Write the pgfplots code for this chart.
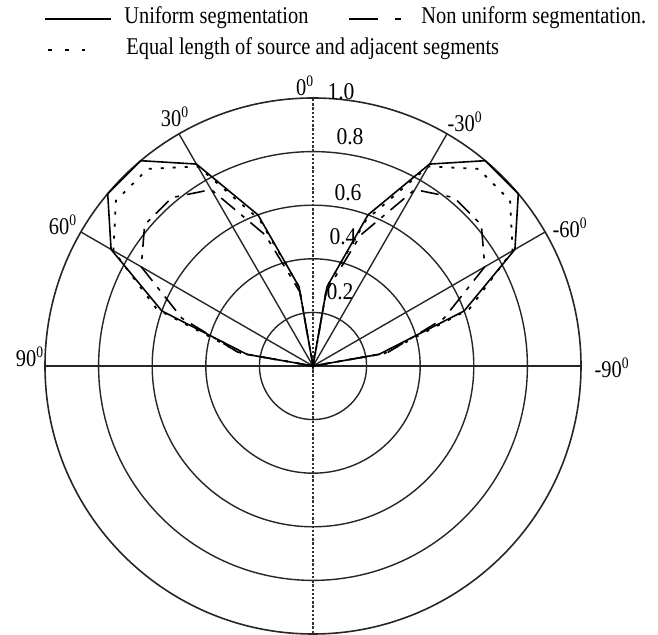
\documentclass[border=0pt]{standalone}
\usepackage{fontspec}
\setmainfont{Liberation Serif}
\usepackage{pgfplots}
\pgfplotsset{compat=1.18}
\usepgfplotslibrary{polar}
\usepackage{pgfplotstable}
\usetikzlibrary{calc}

% Radiation patterns, angle a in degrees (0 = broadside, positive to the left)
\pgfplotstableread{
a    r
-90  0
-80  0.25
-70  0.60
-60  0.87
-50  1.00
-40  1.00
-30  0.87
-20  0.60
-10  0.30
0    0
10   0.30
20   0.60
30   0.87
40   1.00
50   1.00
60   0.87
70   0.60
80   0.25
90   0
}\uniform

\pgfplotstableread{
a    r
-90  0
-80  0.28
-70  0.52
-60  0.74
-50  0.82
-40  0.82
-30  0.76
-20  0.52
-10  0.28
0    0
10   0.28
20   0.52
30   0.76
40   0.82
50   0.82
60   0.74
70   0.52
80   0.28
90   0
}\nonuniform

\pgfplotstableread{
a    r
-90  0
-80  0.27
-70  0.62
-60  0.86
-50  0.96
-40  0.96
-30  0.86
-20  0.58
-10  0.30
0    0
10   0.30
20   0.58
30   0.86
40   0.96
50   0.96
60   0.86
70   0.62
80   0.27
90   0
}\equallen

\begin{document}
\begin{tikzpicture}
\begin{polaraxis}[
  scale only axis,
  width=268pt, height=268pt,
  xmin=0, xmax=360, ymin=0, ymax=1,
  xtick={0,30,60,120,150,180},
  xticklabels={},
  ytick={0.2,0.4,0.6,0.8},
  yticklabels={},
  major tick length=0pt,
  grid=major,
  major grid style={black!85, line width=0.7pt},
  axis line style={black!85, line width=0.8pt},
  clip=false,
]
\coordinate (c) at (axis cs:0,0);
% broadside axis drawn dotted
\draw[black!80, line width=1.1pt, dash pattern=on 1.2pt off 0.9pt] (axis cs:90,0) -- (axis cs:90,1);
\draw[black!80, line width=1.1pt, dash pattern=on 1.2pt off 0.9pt] (axis cs:270,0) -- (axis cs:270,1);
\draw[black!85, line width=1.3pt] (axis cs:0,1) -- (axis cs:180,1);

\addplot[black, line width=0.8pt] table[x expr=\thisrow{a}+90, y=r] {\uniform};
\addplot[black, line width=0.8pt, dash pattern=on 9pt off 4pt on 2pt off 4pt] table[x expr=\thisrow{a}+90, y=r] {\nonuniform};
\addplot[black, line width=0.9pt, dash pattern=on 1.5pt off 4.5pt] table[x expr=\thisrow{a}+90, y=r] {\equallen};
\end{polaraxis}

% legend
\begin{scope}[every node/.style={anchor=west, font=\fontsize{12}{14}\selectfont, xscale=0.85, inner sep=0pt}]
\draw[black, line width=0.8pt] ($(c)+(-134pt,173.5pt)$) -- ($(c)+(-101pt,173.5pt)$);
\node at ($(c)+(-94.5pt,174pt)$) {Uniform segmentation};
\draw[black, line width=0.8pt] ($(c)+(18pt,173.5pt)$) -- ($(c)+(32.5pt,173.5pt)$);
\draw[black, line width=0.8pt] ($(c)+(41pt,173.5pt)$) -- ($(c)+(44pt,173.5pt)$);
\node at ($(c)+(54pt,174pt)$) {Non uniform segmentation.};
\draw[black, line width=0.9pt, dash pattern=on 2pt off 6.5pt] ($(c)+(-132.5pt,158pt)$) -- ($(c)+(-114pt,158pt)$);
\node at ($(c)+(-93.5pt,158.5pt)$) {Equal length of source and adjacent segments};
\end{scope}

% angle labels
\begin{scope}[every node/.style={font=\fontsize{12}{14}\selectfont, xscale=0.85, inner sep=0pt}]
\node at ($(c)+(-4pt,140pt)$) {0\textsuperscript{0}};
\node at ($(c)+(-69pt,124.5pt)$) {30\textsuperscript{0}};
\node at ($(c)+(76pt,122pt)$) {-30\textsuperscript{0}};
\node at ($(c)+(-125pt,70.5pt)$) {60\textsuperscript{0}};
\node at ($(c)+(128.5pt,69pt)$) {-60\textsuperscript{0}};
\node at ($(c)+(-141.5pt,4.5pt)$) {90\textsuperscript{0}};
\node at ($(c)+(149.5pt,-1pt)$) {-90\textsuperscript{0}};
\end{scope}
% radial labels
\begin{scope}[every node/.style={font=\fontsize{12}{14}\selectfont, xscale=0.9, inner sep=0pt}]
\node at ($(c)+(14pt,137pt)$) {1.0};
\node at ($(c)+(18.5pt,114.5pt)$) {0.8};
\node at ($(c)+(17.5pt,86.5pt)$) {0.6};
\node at ($(c)+(15pt,64.5pt)$) {0.4};
\node at ($(c)+(13.5pt,37pt)$) {0.2};
\end{scope}

\pgfresetboundingbox
\path ($(c)+(-156.5pt,183pt)$) rectangle ($(c)+(172.5pt,-134.5pt)$);
\end{tikzpicture}
\end{document}
